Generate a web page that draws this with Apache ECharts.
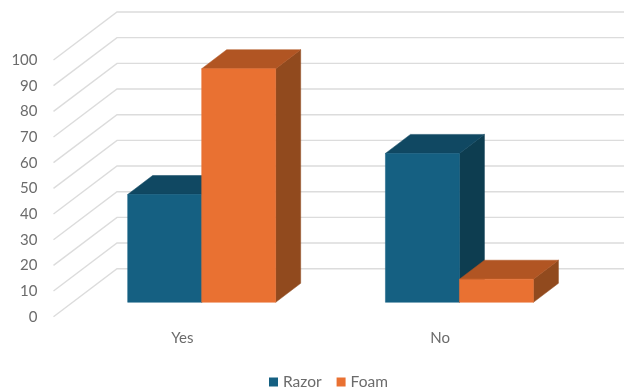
<!DOCTYPE html>
<html>
<head>
<meta charset="utf-8">
<style>html,body{margin:0;padding:0;background:#fff}#chart{width:624px;height:389px}</style>
<script src="https://cdn.jsdelivr.net/npm/echarts@6/dist/echarts.min.js"></script>
</head>
<body>
<div id="chart"></div>
<script>
const categories = ['Yes', 'No'];
const razorValues = [42, 58];
const foamValues = [91, 9];
const gridTicks = [0, 10, 20, 30, 40, 50, 60, 70, 80, 90, 100];

// Oblique projection: the wall sits behind the front plane, bars stand part way into the floor.
const WALL_DX = 63.5, WALL_DY = 48;
const BAR_INSET_DX = 19.3, BAR_INSET_DY = 14.4;
const BAR_W = 74, BAR_DX = 25, BAR_DY = 19;

const chart = echarts.init(document.getElementById('chart'));

function wallLine(params, api) {
  const p = api.coord([0, api.value(1)]);
  const x0 = params.coordSys.x;
  return {
    type: 'polyline',
    silent: true,
    shape: { points: [[x0, p[1]], [x0 + WALL_DX, p[1] - WALL_DY], [624, p[1] - WALL_DY]] },
    style: { fill: 'none', stroke: '#dcdcdc', lineWidth: 1.4 }
  };
}

// Draws one box: front face, top face and right side.
function boxRenderer(slot, front, top, side) {
  return function (params, api) {
    const base = api.coord([api.value(0), 0]);
    const head = api.coord([api.value(0), api.value(1)]);
    const l = base[0] + BAR_INSET_DX + slot * BAR_W;
    const r = l + BAR_W;
    const b = base[1] - BAR_INSET_DY;
    const t = head[1] - BAR_INSET_DY;
    const edge = { lineWidth: 0.5 };
    return {
      type: 'group',
      children: [
        { type: 'polygon', shape: { points: [[r, b], [r + BAR_DX, b - BAR_DY], [r + BAR_DX, t - BAR_DY], [r, t]] },
          style: { fill: side, stroke: side, ...edge } },
        { type: 'polygon', shape: { points: [[l, t], [l + BAR_DX, t - BAR_DY], [r + BAR_DX, t - BAR_DY], [r, t]] },
          style: { fill: top, stroke: top, ...edge } },
        { type: 'rect', shape: { x: l, y: t, width: BAR_W, height: b - t },
          style: { fill: front, stroke: front, ...edge } }
      ]
    };
  };
}

const textStyle = { fontFamily: 'Lato, Carlito, sans-serif', fontSize: 15, color: '#6b6b6b' };

chart.setOption({
  animation: false,
  backgroundColor: '#fff',
  grid: { left: 53.5, top: 60, width: 515.5, height: 256.7 },
  legend: {
    data: ['Razor', 'Foam'],
    left: 264,
    top: 369,
    icon: 'rect',
    itemWidth: 9,
    itemHeight: 9,
    itemGap: 15,
    selectedMode: false,
    textStyle: { ...textStyle, fontSize: 15.5 }
  },
  xAxis: {
    type: 'category',
    data: categories,
    axisLine: { show: false },
    axisTick: { show: false },
    axisLabel: { ...textStyle, margin: 14 }
  },
  yAxis: {
    type: 'value',
    min: 0,
    max: 100,
    interval: 10,
    axisLine: { show: false },
    axisTick: { show: false },
    splitLine: { show: false },
    axisLabel: { ...textStyle, margin: 16 }
  },
  series: [
    {
      name: 'Wall',
      type: 'custom',
      renderItem: wallLine,
      encode: { x: 0, y: 1 },
      data: gridTicks.map(v => [0, v]),
      silent: true,
      z: 1
    },
    {
      name: 'Razor',
      type: 'custom',
      renderItem: boxRenderer(-1, '#156082', '#104862', '#0d3d50'),
      itemStyle: { color: '#156082' },
      encode: { x: 0, y: 1 },
      data: razorValues.map((v, i) => [i, v]),
      z: 2
    },
    {
      name: 'Foam',
      type: 'custom',
      renderItem: boxRenderer(0, '#E97132', '#B15523', '#914A1E'),
      itemStyle: { color: '#E97132' },
      encode: { x: 0, y: 1 },
      data: foamValues.map((v, i) => [i, v]),
      z: 3
    }
  ]
});
</script>
</body>
</html>
